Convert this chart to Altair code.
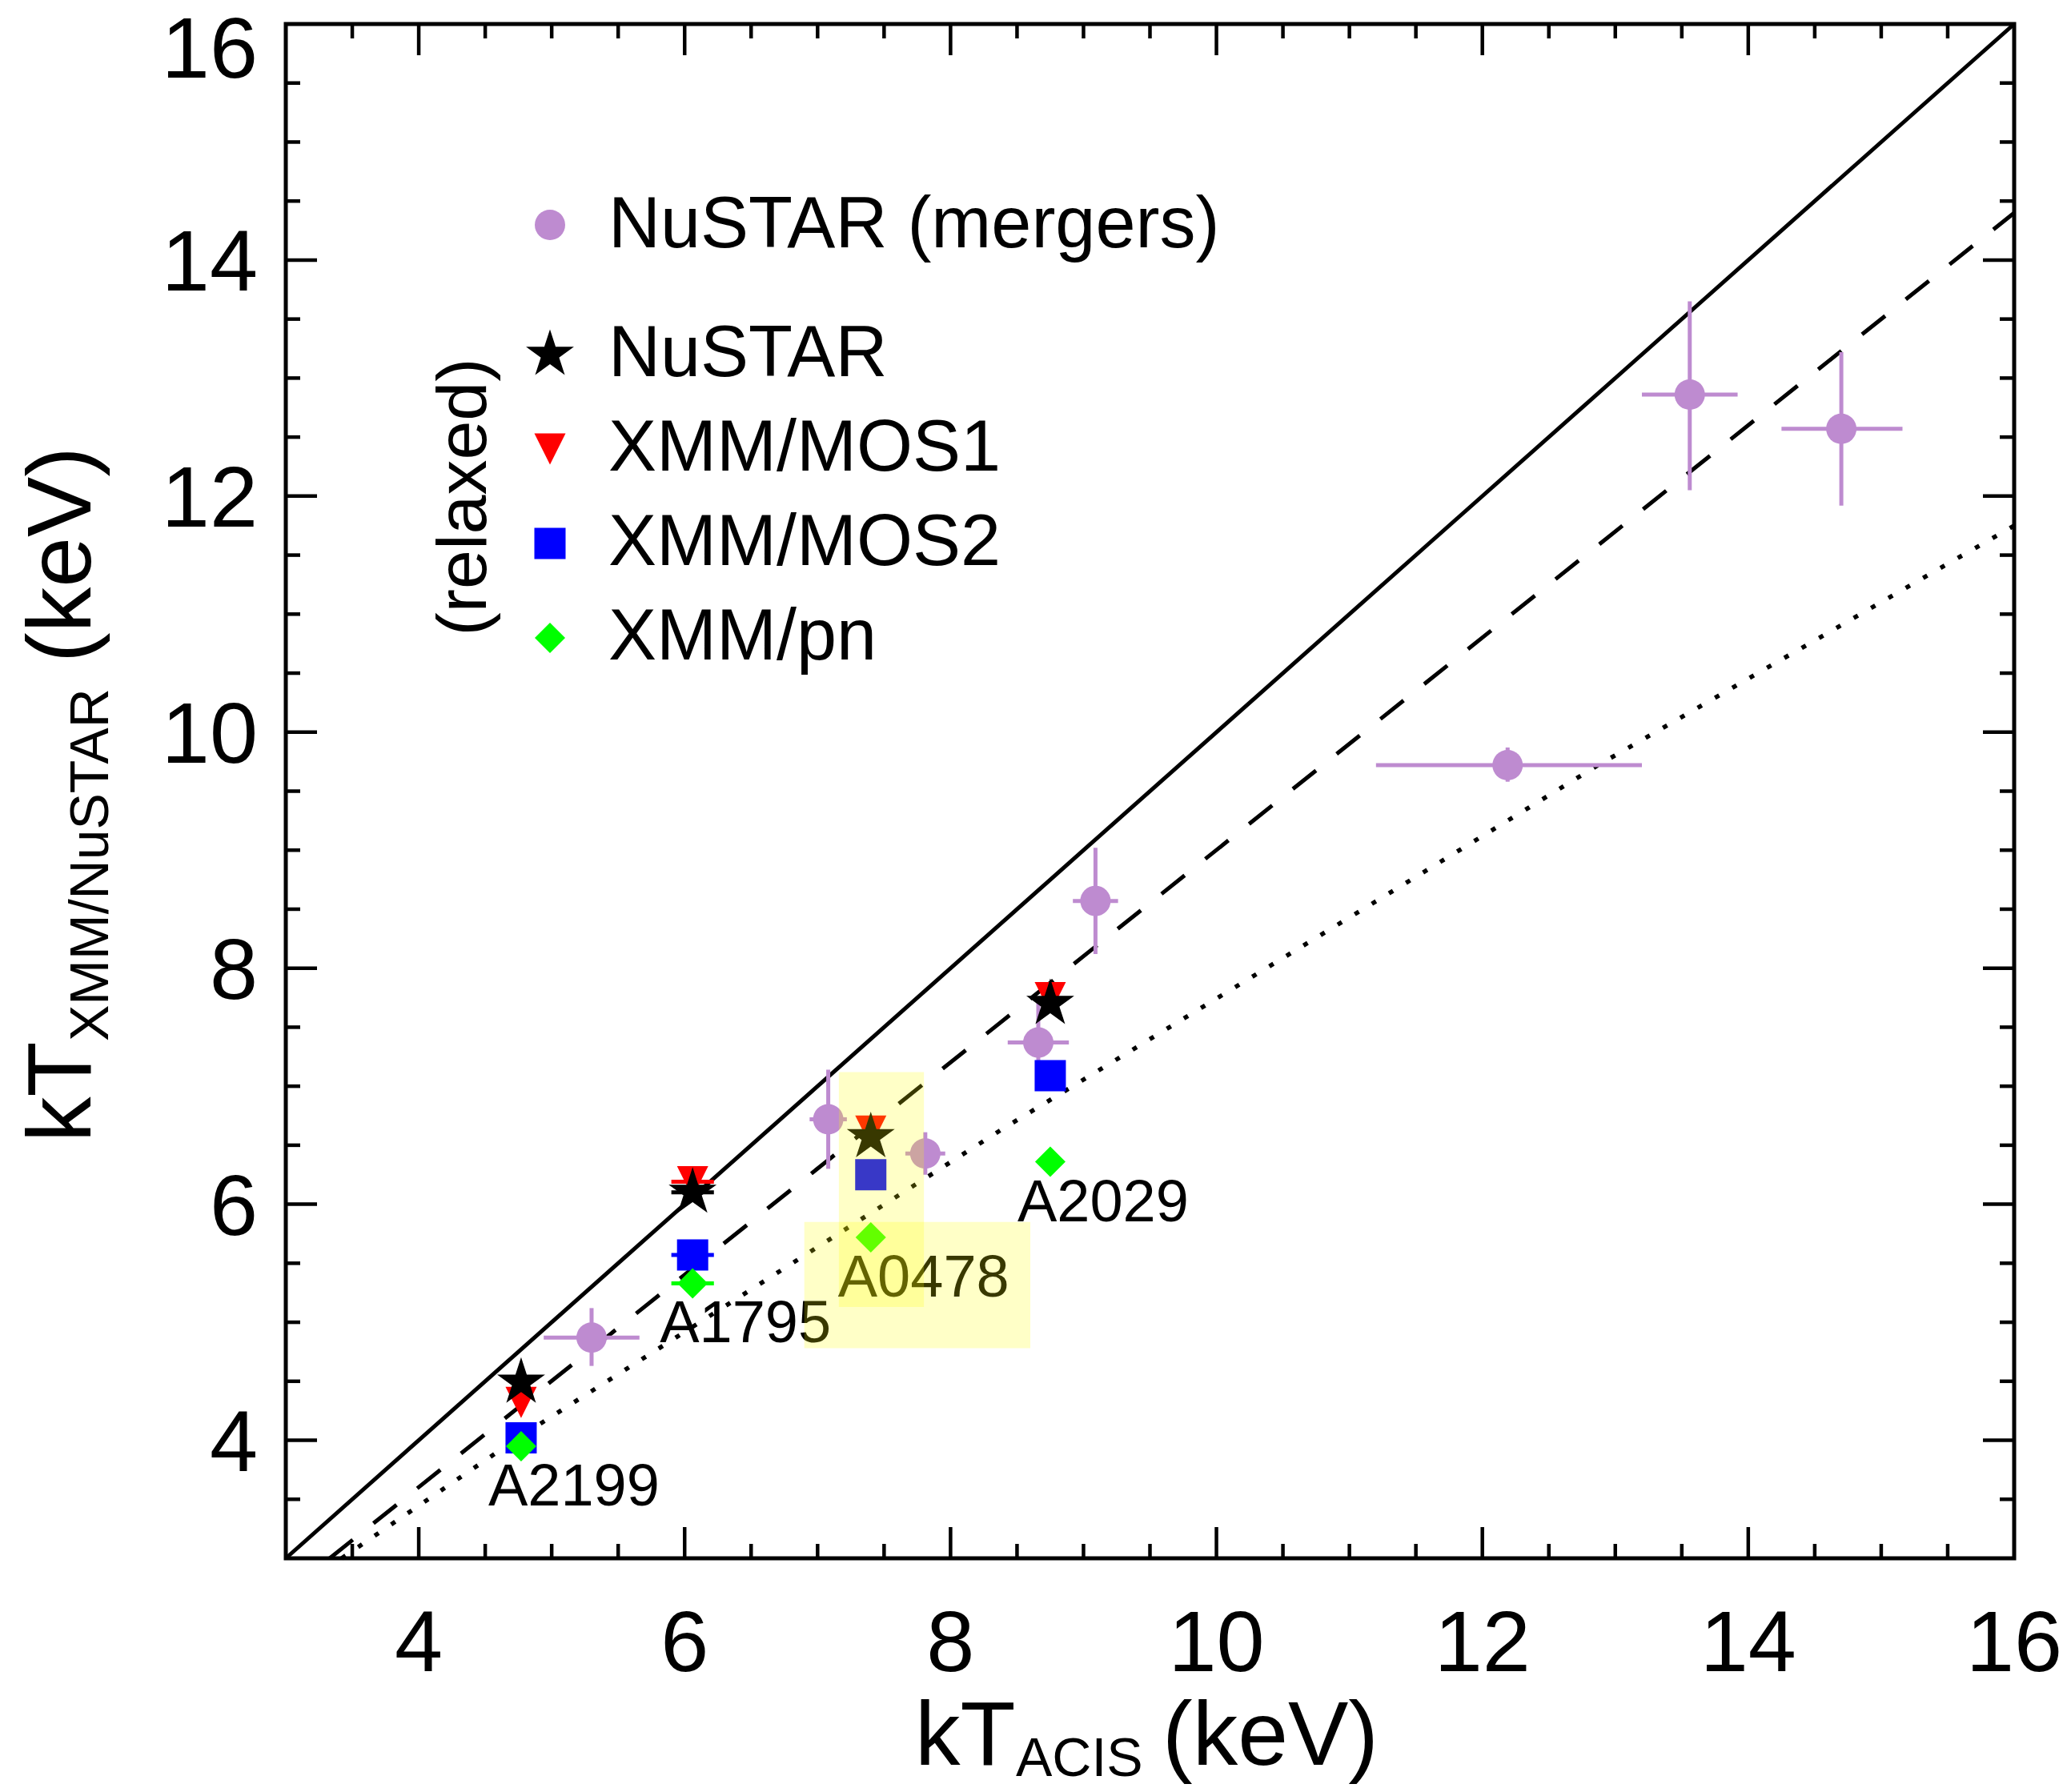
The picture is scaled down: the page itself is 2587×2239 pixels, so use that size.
import altair as alt
import numpy as np
import pandas as pd

# ---------------- data ----------------
# merging clusters (NuSTAR) with error bars
MERGER_X = [5.30, 7.08, 7.81, 8.66, 9.09, 12.19, 13.56, 14.70]
MERGER_Y = [4.87, 6.72, 6.43, 7.37, 8.57, 9.72, 12.86, 12.57]
MERGER_XLO = [4.94, 6.94, 7.66, 8.43, 8.92, 11.20, 13.20, 14.25]
MERGER_XHI = [5.66, 7.22, 7.96, 8.89, 9.26, 13.20, 13.92, 15.16]
MERGER_YLO = [4.63, 6.30, 6.25, 6.99, 8.12, 9.58, 12.05, 11.92]
MERGER_YHI = [5.12, 7.14, 6.61, 7.74, 9.02, 9.87, 13.65, 13.22]

# relaxed clusters
CLUSTERS = ["A2199", "A1795", "A0478", "A2029"]
CL_X = [4.77, 6.06, 7.40, 8.75]
NUSTAR_Y = [4.49, 6.10, 6.57, 7.70]
MOS1_Y = [4.32, 6.19, 6.62, 7.75]
MOS2_Y = [4.02, 5.57, 6.25, 7.09]
PN_Y = [3.95, 5.33, 5.72, 6.36]
CL_XERR = [0.0, 0.16, 0.0, 0.0]

# reference lines
SOLID_X = [3.0, 16.0]
SOLID_Y = [3.0, 16.0]
DASH_X = [3.33, 16.0]
DASH_Y = [3.0, 14.4]
DOT_X = [3.42, 4.76, 5.85, 8.38, 11.35, 12.87, 16.0]
DOT_Y = [3.0, 4.03, 4.81, 6.63, 8.67, 9.72, 11.75]

# highlight boxes (data units)
BOX_X1 = [7.16, 6.90]
BOX_X2 = [7.80, 8.60]
BOX_Y1 = [5.13, 4.78]
BOX_Y2 = [7.12, 5.85]

# ticks / labels
TICK_LABELS = [4, 6, 8, 10, 12, 14, 16]
LEGEND_LABELS = ["NuSTAR (mergers)", "NuSTAR", "XMM/MOS1", "XMM/MOS2", "XMM/pn"]

# ---------------- styling ----------------
FONT = "Liberation Sans"
PURPLE = "#BE8BD0"
W, H = 2159, 1917
xs = alt.Scale(domain=[3, 16], nice=False, zero=False)
ys = alt.Scale(domain=[3, 16], nice=False, zero=False)

STAR = ("M0,-1 L0.2245,-0.309 L0.9511,-0.309 L0.3633,0.118 L0.5878,0.809 "
        "L0,0.382 L-0.5878,0.809 L-0.3633,0.118 L-0.9511,-0.309 L-0.2245,-0.309 Z")
TRI_DOWN = "M-1,-1 L1,-1 L0,1 Z"

SYM = {
    "merger": dict(shape="circle", size=1444, color=PURPLE),
    "nustar": dict(shape=STAR, size=3969, color="black"),
    "mos1": dict(shape=TRI_DOWN, size=1521, color="#FF0000"),
    "mos2": dict(shape="square", size=1521, color="#0000FF"),
    "pn": dict(shape="diamond", size=1444, color="#00FF00"),
}


def X(f):
    return alt.X(f"{f}:Q", scale=xs, axis=None)


def Y(f):
    return alt.Y(f"{f}:Q", scale=ys, axis=None)


def one():
    return alt.Chart(pd.DataFrame({"a": [0]}))


layers = []

# reference lines
for lx, ly, dash, sw in [(SOLID_X, SOLID_Y, None, 5),
                         (DASH_X, DASH_Y, [37, 33], 5),
                         (DOT_X, DOT_Y, [6, 19], 5.5)]:
    kw = dict(color="black", strokeWidth=sw, strokeCap="butt")
    if dash:
        kw["strokeDash"] = dash
    layers.append(alt.Chart(pd.DataFrame({"x": lx, "y": ly}))
                  .mark_line(**kw).encode(x=X("x"), y=Y("y")))

# mergers
mdf = pd.DataFrame({"x": MERGER_X, "y": MERGER_Y, "xlo": MERGER_XLO, "xhi": MERGER_XHI,
                    "ylo": MERGER_YLO, "yhi": MERGER_YHI})
layers.append(alt.Chart(mdf).mark_rule(color=PURPLE, strokeWidth=5)
              .encode(x=X("xlo"), x2="xhi", y=Y("y")))
layers.append(alt.Chart(mdf).mark_rule(color=PURPLE, strokeWidth=5)
              .encode(x=X("x"), y=Y("ylo"), y2="yhi"))
layers.append(alt.Chart(mdf).mark_point(filled=True, opacity=1, strokeWidth=0, **SYM["merger"])
              .encode(x=X("x"), y=Y("y")))

# relaxed clusters
cdf = pd.DataFrame({"name": CLUSTERS, "x": CL_X, "nustar": NUSTAR_Y, "mos1": MOS1_Y,
                    "mos2": MOS2_Y, "pn": PN_Y, "xerr": CL_XERR})
cdf["xlo"] = cdf["x"] - cdf["xerr"]
cdf["xhi"] = cdf["x"] + cdf["xerr"]
edf = cdf[cdf["xerr"] > 0]
for key in ["mos2", "pn", "mos1", "nustar"]:
    layers.append(alt.Chart(edf).mark_rule(color=SYM[key]["color"], strokeWidth=5)
                  .encode(x=X("xlo"), x2="xhi", y=Y(key)))
for key in ["mos2", "pn", "mos1", "nustar"]:
    layers.append(alt.Chart(cdf).mark_point(filled=True, opacity=1, strokeWidth=0, **SYM[key])
                  .encode(x=X("x"), y=Y(key)))

# cluster names
layers.append(alt.Chart(cdf).mark_text(font=FONT, fontSize=74, align="left",
                                       baseline="alphabetic", dx=-41, dy=74, color="black")
              .encode(x=X("x"), y=Y("pn"), text="name:N"))

# highlight boxes
bdf = pd.DataFrame({"x1": BOX_X1, "x2": BOX_X2, "y1": BOX_Y1, "y2": BOX_Y2})
layers.append(alt.Chart(bdf).mark_rect(color="#FFFF00", opacity=0.22)
              .encode(x=X("x1"), x2="x2", y=Y("y1"), y2="y2"))

# ---------------- frame ticks (inward, all four sides) ----------------
minor = [v for v in np.arange(3.5, 16.0, 0.5) if v not in TICK_LABELS]
major = [v for v in TICK_LABELS if v < 16]
for vals, ln in [(major, 39), (minor, 18)]:
    tdf = pd.DataFrame({"v": vals})
    tk = dict(color="black", strokeWidth=4.5)
    layers.append(alt.Chart(tdf).mark_rule(**tk).encode(x=X("v"), y=alt.value(H), y2=alt.value(H - ln)))
    layers.append(alt.Chart(tdf).mark_rule(**tk).encode(x=X("v"), y=alt.value(0), y2=alt.value(ln)))
    layers.append(alt.Chart(tdf).mark_rule(**tk).encode(y=Y("v"), x=alt.value(0), x2=alt.value(ln)))
    layers.append(alt.Chart(tdf).mark_rule(**tk).encode(y=Y("v"), x=alt.value(W), x2=alt.value(W - ln)))

# tick labels
ldf = pd.DataFrame({"v": TICK_LABELS})
layers.append(alt.Chart(ldf).mark_text(font=FONT, fontSize=108, align="center", baseline="alphabetic")
              .encode(x=X("v"), y=alt.value(2058), text="v:Q"))
layers.append(alt.Chart(ldf[ldf["v"] < 16]).mark_text(font=FONT, fontSize=108, align="right",
                                                      baseline="alphabetic", dy=38)
              .encode(y=Y("v"), x=alt.value(-35), text="v:Q"))
layers.append(alt.Chart(ldf[ldf["v"] == 16]).mark_text(font=FONT, fontSize=108, align="right",
                                                       baseline="alphabetic", dy=67)
              .encode(y=Y("v"), x=alt.value(-35), text="v:Q"))

# axis titles with subscripts
for txt, fs, px, py in [("kT", 113, 786, 2175), ("ACIS", 68, 912, 2189), ("(keV)", 113, 1095, 2175)]:
    layers.append(one().mark_text(text=txt, font=FONT, fontSize=fs, align="left", baseline="alphabetic")
                  .encode(x=alt.value(px), y=alt.value(py)))
for txt, fs, px, py in [("kT", 113, -244, 1397), ("XMM/NuSTAR", 68, -222, 1271), ("(keV)", 113, -244, 798)]:
    layers.append(one().mark_text(text=txt, font=FONT, fontSize=fs, angle=270, align="left",
                                  baseline="alphabetic")
                  .encode(x=alt.value(px), y=alt.value(py)))

# ---------------- legend ----------------
leg_keys = ["merger", "nustar", "mos1", "mos2", "pn"]
leg_sym_y = [251, 413, 531, 649, 767]
leg_txt_y = [279, 440, 558, 676, 794]
for key, sy in zip(leg_keys, leg_sym_y):
    layers.append(one().mark_point(filled=True, opacity=1, strokeWidth=0, **SYM[key])
                  .encode(x=alt.value(330), y=alt.value(sy)))
for lab, ty in zip(LEGEND_LABELS, leg_txt_y):
    layers.append(one().mark_text(text=lab, font=FONT, fontSize=90, align="left", baseline="alphabetic")
                  .encode(x=alt.value(403), y=alt.value(ty)))
layers.append(one().mark_text(text="(relaxed)", font=FONT, fontSize=88, angle=270, align="center",
                              baseline="middle")
              .encode(x=alt.value(224), y=alt.value(591)))

chart = (alt.layer(*layers)
         .properties(width=W, height=H,
                     padding={"left": 357, "top": 30, "right": 71, "bottom": 292},
                     autosize=alt.AutoSizeParams(type="none"),
                     background="white")
         .configure_view(stroke="black", strokeWidth=5))

chart.save("out.html", embed_options={"renderer": "svg", "actions": False})
